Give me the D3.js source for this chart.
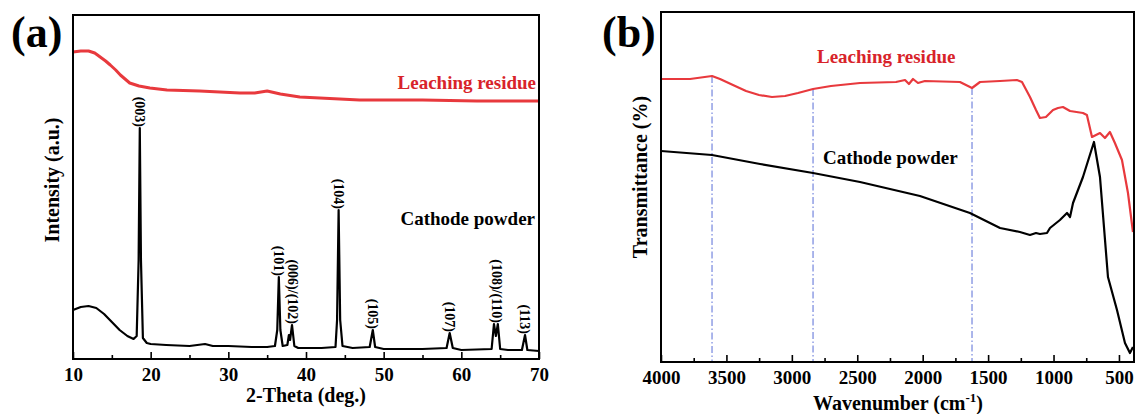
<!DOCTYPE html>
<html>

<head>
    <meta charset="utf-8" />
    <title>XRD and FTIR</title>
    <script src="https://d3js.org/d3.v7.min.js"></script>
    <style>
        body {
            margin: 0;
            background: #fff;
        }

        svg {
            display: block;
            font-family: "Liberation Serif", "Times New Roman", serif;
            font-weight: bold;
        }
    </style>
</head>

<body>
    <svg width="1136" height="414"></svg>
    <script>
        // (a) XRD data, intensity in a.u.
        var cathodeTheta = [10, 11, 12, 13, 14, 15, 16, 17, 17.8, 18.2, 18.45, 18.6, 18.75, 19, 19.5, 20, 22, 25, 27, 28, 30, 33, 35,
            36, 36.3, 36.5, 36.7, 37, 37.6, 37.8, 37.95, 38.2, 38.5, 39, 42, 43.8, 44, 44.2, 44.4, 44.7, 46, 48.2, 48.6, 48.9,
            50, 55, 58.1, 58.5, 58.9, 60, 63.9, 64.2, 64.45, 64.7, 65, 66, 67.8, 68.2, 68.5, 70];
        var cathodeIntensity = [49, 52, 53, 51, 45, 37, 29, 23, 20, 23, 99, 231, 99, 21, 16, 15, 14, 13, 15, 13, 13, 12, 12,
            13, 29, 82, 29, 13, 14, 24, 19, 34, 13, 11, 11, 12, 39, 149, 39, 13, 11, 12, 29, 12,
            10, 10, 11, 26, 11, 9, 10, 35, 23, 35, 10, 9, 9, 24, 9, 8];
        var residueTheta = [10, 11, 12, 12.8, 13.5, 14.2, 14.8, 15.5, 16.1, 16.7, 17.3, 18.5, 19.9, 22.1, 26.3, 31.5, 33.4, 35,
            36.7, 39.2, 46.9, 55, 62, 70];
        var residueIntensity = [307, 308, 308, 306, 302, 298, 294, 289, 284, 280, 276, 273, 271, 269, 268, 266, 266, 268,
            265, 262, 259, 259, 258, 258];

        var peakHkl = ["(003)", "(101)", "(006)/(102)", "(104)", "(105)", "(107)", "(108)/(110)", "(113)"];
        var peakTheta = [18.6, 36.5, 38.3, 44.2, 48.6, 58.5, 64.55, 68.2];
        var peakTop = [231, 82, 34, 149, 29, 26, 35, 24];

        var thetaTicks = [10, 20, 30, 40, 50, 60, 70];
        var thetaMinor = [15, 25, 35, 45, 55, 65];

        // (b) FTIR data, transmittance in a.u.
        var irCathodeWn = [4000, 3610, 3243, 2838, 2479, 2021, 1639, 1409, 1257, 1180, 1134, 1104, 1050, 1027, 951, 897, 874,
            851, 775, 691, 645, 584, 515, 454, 416, 393];
        var irCathodeT = [211, 207, 198, 189, 180, 166, 149, 134, 130, 127, 129, 128, 129, 134, 142, 149, 145,
            159, 185, 220, 185, 85, 52, 19, 9, 15];
        var irResidueWn = [4000, 3778, 3610, 3549, 3450, 3350, 3251, 3152, 3052, 2953, 2838, 2701, 2479, 2204, 2135, 2105,
            2074, 2036, 1983, 1715, 1623, 1562, 1409, 1280, 1241, 1180, 1134, 1104, 1058, 1004, 966, 928, 874, 775, 745,
            706, 645, 607, 569, 531, 477, 431, 393];
        var irResidueT = [283, 283, 286, 283, 277, 271, 267, 265, 266, 269, 273, 276, 279, 280, 282, 278,
            283, 279, 281, 280, 274, 280, 281, 282, 280, 265, 252, 244, 245, 252, 254, 255, 251, 249, 247,
            225, 229, 224, 230, 219, 202, 169, 130];
        var guideWn = [3610, 2838, 1623];

        var wnTicks = [4000, 3500, 3000, 2500, 2000, 1500, 1000, 500];
        var wnMinor = [3750, 3250, 2750, 2250, 1750, 1250, 750];

        var red = "#e8393d";
        var svg = d3.select("svg");

        function frame(g, x0, y0, x1, y1) {
            g.append("rect")
                .attr("x", x0).attr("y", y0)
                .attr("width", x1 - x0).attr("height", y1 - y0)
                .attr("fill", "none")
                .attr("stroke", "#000")
                .attr("stroke-width", 2);
        }

        function bottomAxis(g, x, ticks, minor, y, pad) {
            var ax = g.append("g")
                .attr("transform", "translate(0," + y + ")")
                .call(d3.axisBottom(x).tickValues(ticks).tickFormat(d3.format("d"))
                    .tickSizeInner(-7).tickSizeOuter(0).tickPadding(pad));
            ax.select(".domain").remove();
            ax.selectAll("line").attr("stroke-width", 1.6);
            ax.selectAll("text")
                .attr("font-family", "'Liberation Serif', 'Times New Roman', serif")
                .attr("font-weight", "bold")
                .attr("font-size", 19)
                .attr("fill", "#000");
            var mn = g.append("g")
                .attr("transform", "translate(0," + y + ")")
                .call(d3.axisBottom(x).tickValues(minor).tickSizeInner(-4).tickSizeOuter(0).tickFormat(""));
            mn.select(".domain").remove();
            mn.selectAll("line").attr("stroke-width", 1.6);
        }

        // ---------- panel (a) ----------
        var ga = svg.append("g");
        var xa = d3.scaleLinear().domain([10, 70]).range([73, 539]);
        var ya = d3.scaleLinear().domain([0, 344]).range([359, 15]);

        var lineA = d3.line()
            .x(function (d) { return xa(d[0]); })
            .y(function (d) { return ya(d[1]); });

        ga.append("path")
            .datum(d3.zip(residueTheta, residueIntensity))
            .attr("d", lineA)
            .attr("fill", "none")
            .attr("stroke", red)
            .attr("stroke-width", 3)
            .attr("stroke-linejoin", "round");

        ga.append("path")
            .datum(d3.zip(cathodeTheta, cathodeIntensity))
            .attr("d", lineA)
            .attr("fill", "none")
            .attr("stroke", "#000")
            .attr("stroke-width", 2.2)
            .attr("stroke-linejoin", "round");

        ga.selectAll(".hkl")
            .data(peakHkl)
            .enter()
            .append("text")
            .attr("class", "hkl")
            .attr("transform", function (d, i) {
                return "translate(" + xa(peakTheta[i]) + "," + (ya(peakTop[i]) - 1) + ") rotate(90)";
            })
            .attr("dy", "0.33em")
            .attr("text-anchor", "end")
            .attr("font-size", 14)
            .text(function (d) { return d; });

        frame(ga, 73, 15, 539, 359);
        bottomAxis(ga, xa, thetaTicks, thetaMinor, 359, 9);

        ga.append("text").attr("x", 536).attr("y", 89).attr("text-anchor", "end")
            .attr("font-size", 19).attr("fill", "#d8232a").text("Leaching residue");
        ga.append("text").attr("x", 535).attr("y", 225).attr("text-anchor", "end")
            .attr("font-size", 19).text("Cathode powder");

        ga.append("text").attr("x", 306).attr("y", 402).attr("text-anchor", "middle")
            .attr("font-size", 20).text("2-Theta (deg.)");
        ga.append("text")
            .attr("transform", "translate(59,180) rotate(-90)")
            .attr("text-anchor", "middle")
            .attr("font-size", 20)
            .text("Intensity (a.u.)");
        ga.append("text").attr("x", 11).attr("y", 47).attr("font-size", 44).text("(a)");

        // ---------- panel (b) ----------
        var gb = svg.append("g");
        var xb = d3.scaleLinear().domain([4000, 385]).range([661, 1134]);
        var yb = d3.scaleLinear().domain([0, 350]).range([362, 12]);

        var lineB = d3.line()
            .x(function (d) { return xb(d[0]); })
            .y(function (d) { return yb(d[1]); });

        var residueAt = d3.scaleLinear().domain(irResidueWn).range(irResidueT);

        gb.selectAll(".guide")
            .data(guideWn)
            .enter()
            .append("line")
            .attr("class", "guide")
            .attr("x1", function (d) { return xb(d); })
            .attr("x2", function (d) { return xb(d); })
            .attr("y1", function (d) { return yb(residueAt(d)); })
            .attr("y2", 362)
            .attr("stroke", "#7f8fe0")
            .attr("stroke-width", 1.3)
            .attr("stroke-dasharray", "7,2.5,1.5,2.5");

        gb.append("path")
            .datum(d3.zip(irResidueWn, irResidueT))
            .attr("d", lineB)
            .attr("fill", "none")
            .attr("stroke", red)
            .attr("stroke-width", 2.2)
            .attr("stroke-linejoin", "round");

        gb.append("path")
            .datum(d3.zip(irCathodeWn, irCathodeT))
            .attr("d", lineB)
            .attr("fill", "none")
            .attr("stroke", "#000")
            .attr("stroke-width", 2.2)
            .attr("stroke-linejoin", "round");

        frame(gb, 661, 12, 1134, 362);
        bottomAxis(gb, xb, wnTicks, wnMinor, 362, 9);

        gb.append("text").attr("x", 817).attr("y", 63)
            .attr("font-size", 19).attr("fill", "#d8232a").text("Leaching residue");
        gb.append("text").attr("x", 823).attr("y", 164)
            .attr("font-size", 19).text("Cathode powder");

        var xt = gb.append("text").attr("x", 898).attr("y", 410).attr("text-anchor", "middle")
            .attr("font-size", 20);
        xt.append("tspan").text("Wavenumber (cm");
        xt.append("tspan").attr("font-size", 13).attr("dy", -8).text("-1");
        xt.append("tspan").attr("dy", 8).text(")");

        gb.append("text")
            .attr("transform", "translate(647,177) rotate(-90)")
            .attr("text-anchor", "middle")
            .attr("font-size", 20)
            .text("Transmittance (%)");
        gb.append("text").attr("x", 602).attr("y", 47).attr("font-size", 44).text("(b)");
    </script>
</body>

</html>
